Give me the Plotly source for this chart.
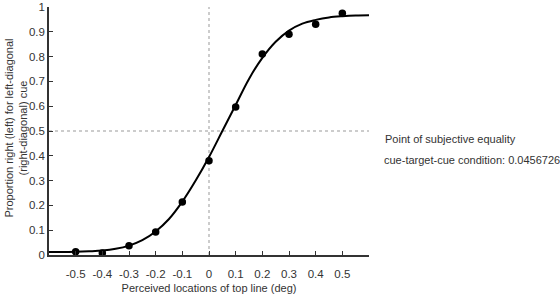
import plotly.graph_objects as go

# observed data points
x_points = [-0.5, -0.4, -0.3, -0.2, -0.1, 0.0, 0.1, 0.2, 0.3, 0.4, 0.5]
y_points = [0.013, 0.008, 0.037, 0.093, 0.214, 0.38, 0.597, 0.81, 0.89, 0.93, 0.975]

# fitted curve
x_curve = [-0.6, -0.55, -0.5, -0.45, -0.4, -0.35, -0.3, -0.25, -0.2, -0.15, -0.1, -0.05,
           0.0, 0.05, 0.1, 0.15, 0.2, 0.25, 0.3, 0.35, 0.4, 0.45, 0.5, 0.55, 0.6]
y_curve = [0.012, 0.012, 0.013, 0.015, 0.018, 0.025, 0.038, 0.06, 0.095, 0.145, 0.215, 0.30,
           0.395, 0.50, 0.605, 0.71, 0.795, 0.86, 0.905, 0.933, 0.948, 0.958, 0.963, 0.966, 0.967]

x_ticks = [-0.5, -0.4, -0.3, -0.2, -0.1, 0, 0.1, 0.2, 0.3, 0.4, 0.5]
x_tick_labels = ["-0.5", "-0.4", "-0.3", "-0.2", "-0.1", "0", "0.1", "0.2", "0.3", "0.4", "0.5"]
y_ticks = [0, 0.1, 0.2, 0.3, 0.4, 0.5, 0.6, 0.7, 0.8, 0.9, 1]
y_tick_labels = ["0", "0.1", "0.2", "0.3", "0.4", "0.5", "0.6", "0.7", "0.8", "0.9", "1"]

ref_x = 0.0
ref_y = 0.5
pse_value = "0.0456726"

FONT = "Liberation Sans, Arial, sans-serif"
TXT = "#333333"

fig = go.Figure()
fig.add_trace(go.Scatter(x=x_curve, y=y_curve, mode="lines", line=dict(color="black", width=2, shape="spline"),
                         showlegend=False, hoverinfo="skip"))
fig.add_trace(go.Scatter(x=x_points, y=y_points, mode="markers", marker=dict(color="black", size=7.5),
                         showlegend=False))

fig.add_shape(type="line", xref="x", yref="y", x0=ref_x, x1=ref_x, y0=0, y1=1,
              line=dict(color="#999999", width=1, dash="dot"), layer="below")
fig.add_shape(type="line", xref="x", yref="y", x0=-0.6, x1=0.6, y0=ref_y, y1=ref_y,
              line=dict(color="#999999", width=1, dash="dot"), layer="below")

fig.add_annotation(text="Point of subjective equality", xref="paper", yref="paper",
                   x=1.045, y=0.468, xanchor="left", yanchor="middle", showarrow=False,
                   font=dict(family=FONT, size=11, color=TXT))
fig.add_annotation(text="cue-target-cue condition: " + pse_value, xref="paper", yref="paper",
                   x=1.042, y=0.383, xanchor="left", yanchor="middle", showarrow=False,
                   font=dict(family=FONT, size=11, color=TXT))
fig.add_annotation(text="Proportion right (left) for left-diagonal<br>(right-diagonal) cue",
                   xref="paper", yref="paper", x=-0.106, y=0.51, xanchor="center", yanchor="middle",
                   textangle=-90, showarrow=False, font=dict(family=FONT, size=11, color=TXT))

fig.update_layout(
    width=560, height=296,
    margin=dict(l=49, r=191, t=7, b=41, autoexpand=False),
    paper_bgcolor="white", plot_bgcolor="white",
    font=dict(family=FONT, size=11, color=TXT),
    xaxis=dict(range=[-0.6, 0.6], tickvals=x_ticks, ticktext=x_tick_labels, automargin=False,
               showgrid=False, zeroline=False, showline=True, linecolor="#333", linewidth=1.5,
               ticks="inside", ticklen=4, tickcolor="#333", ticklabelstandoff=7,
               tickfont=dict(family=FONT, size=11.5, color=TXT),
               title=dict(text="Perceived locations of top line (deg)", standoff=6,
                          font=dict(family=FONT, size=11, color=TXT))),
    yaxis=dict(range=[0, 1], tickvals=y_ticks, ticktext=y_tick_labels, automargin=False,
               showgrid=False, zeroline=False, showline=True, linecolor="#333", linewidth=1.5,
               ticks="inside", ticklen=4, tickcolor="#333",
               tickfont=dict(family=FONT, size=11.5, color=TXT)),
)

fig.write_html("out.html", config={"displayModeBar": False},
               post_script="document.body.style.margin='0';document.body.style.padding='0';")
